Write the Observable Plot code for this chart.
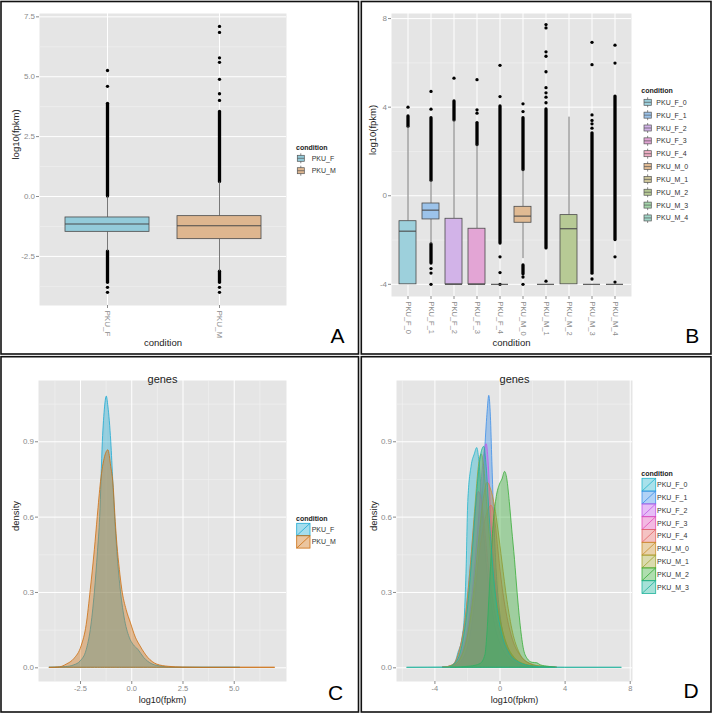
<!DOCTYPE html>
<html><head><meta charset="utf-8">
<script src="https://cdn.jsdelivr.net/npm/d3@7"></script>
<script src="https://cdn.jsdelivr.net/npm/@observablehq/plot@0.6"></script>
<style>
body{margin:0;background:#fff;}
#fig{position:relative;width:716px;height:715px;overflow:hidden;background:#fff;}
#fig svg{position:absolute;}
</style></head><body><div id="fig"></div>
<script>
// ---------------- DATA ----------------
// Panel A: boxplot by sex
const condA = ["PKU_F", "PKU_M"];
const q1A = [-1.475, -1.78];
const medA = [-1.15, -1.22];
const q3A = [-0.875, -0.82];
const whLoA = [-2.3, -3.14];
const whHiA = [0.0, 0.61];
const denseA = [["PKU_F", 0.0, 3.87], ["PKU_F", -3.6, -2.3], ["PKU_M", 0.61, 3.53], ["PKU_M", -3.6, -3.14]];
const dotsA = [["PKU_F", 4.6], ["PKU_F", 5.26], ["PKU_F", -3.79], ["PKU_F", -4.0],
  ["PKU_M", 4.01], ["PKU_M", 4.29], ["PKU_M", 4.89], ["PKU_M", 5.6], ["PKU_M", 5.79], ["PKU_M", 6.85], ["PKU_M", 7.1], ["PKU_M", -3.79], ["PKU_M", -4.0]];
const yTicksA = [-2.5, 0, 2.5, 5, 7.5];
const yMinorA = [-3.75, -1.25, 1.25, 3.75, 6.25];

// Panel B: boxplot by sample
const condB = ["PKU_F_0","PKU_F_1","PKU_F_2","PKU_F_3","PKU_F_4","PKU_M_0","PKU_M_1","PKU_M_2","PKU_M_3","PKU_M_4"];
const q1B = [-4, -1.07, -4, -4, -4, -1.22, -4, -4, -4, -4];
const medB = [-1.6, -0.65, -4, -4, -4, -0.92, -4, -1.49, -4, -4];
const q3B = [-1.15, -0.35, -1.04, -1.49, -4, -0.5, -4, -0.875, -4, -4];
const whLoB = [-4, -2.2, -4, -4, -4, -2.84, -4, -4, -4, -4];
const whHiB = [3.12, 0.68, 3.4, 2.29, -4, 1.16, -4, 3.55, -4, -4];
const denseB = [
  ["PKU_F_0", 3.12, 3.58],
  ["PKU_F_1", 0.68, 3.5], ["PKU_F_1", -3.06, -2.2],
  ["PKU_F_2", 3.4, 4.26],
  ["PKU_F_3", 2.29, 3.28],
  ["PKU_F_4", -2.16, 4.03],
  ["PKU_M_0", 1.16, 3.5], ["PKU_M_0", -3.55, -3.15],
  ["PKU_M_1", -2.38, 3.9],
  ["PKU_M_3", -3.52, 2.82],
  ["PKU_M_4", -2.0, 4.48]
];
const dotsB = [
  ["PKU_F_0", 4.0],
  ["PKU_F_1", 3.91], ["PKU_F_1", 4.71], ["PKU_F_1", -3.29], ["PKU_F_1", -3.49], ["PKU_F_1", -4.0],
  ["PKU_F_2", 5.31],
  ["PKU_F_3", 3.73], ["PKU_F_3", 3.88], ["PKU_F_3", 5.24],
  ["PKU_F_4", 4.48], ["PKU_F_4", 5.89], ["PKU_F_4", -2.76], ["PKU_F_4", -3.47], ["PKU_F_4", -4.0],
  ["PKU_M_0", 3.8], ["PKU_M_0", 4.15], ["PKU_M_0", -3.67], ["PKU_M_0", -4.0],
  ["PKU_M_1", 4.2], ["PKU_M_1", 4.45], ["PKU_M_1", 4.65], ["PKU_M_1", 4.88], ["PKU_M_1", 5.6], ["PKU_M_1", 6.3], ["PKU_M_1", 6.5], ["PKU_M_1", 7.58], ["PKU_M_1", 7.73], ["PKU_M_1", -3.86],
  ["PKU_M_3", 3.05], ["PKU_M_3", 3.25], ["PKU_M_3", 3.4], ["PKU_M_3", 3.65], ["PKU_M_3", 5.92], ["PKU_M_3", 6.93], ["PKU_M_3", -3.76],
  ["PKU_M_4", 5.99], ["PKU_M_4", 6.8], ["PKU_M_4", -2.76], ["PKU_M_4", -3.9]
];
const yTicksB = [-4, 0, 4, 8];
const yMinorB = [-2, 2, 6];

// Panel C: density by sex
const condC = ["PKU_F", "PKU_M"];
const densC_F = [[-4.0,0],[-3.2,0.003],[-2.8,0.01],[-2.5,0.025],[-2.2,0.07],[-2.0,0.15],[-1.8,0.3],[-1.65,0.46],[-1.54,0.6],[-1.41,0.9],[-1.3,1.04],[-1.22,1.08],[-1.14,1.04],[-1.0,0.9],[-0.9,0.74],[-0.81,0.6],[-0.7,0.46],[-0.55,0.32],[-0.35,0.2],[-0.1,0.12],[0.1,0.09],[0.32,0.072],[0.6,0.04],[1.0,0.014],[1.5,0.004],[1.94,0],[5.3,0]];
const densC_M = [[-4.0,0],[-3.5,0.002],[-3.17,0.013],[-2.8,0.035],[-2.45,0.085],[-2.2,0.17],[-2.0,0.31],[-1.8,0.47],[-1.66,0.6],[-1.5,0.74],[-1.3,0.84],[-1.14,0.866],[-1.0,0.8],[-0.89,0.73],[-0.78,0.58],[-0.7,0.49],[-0.58,0.39],[-0.46,0.31],[-0.25,0.23],[-0.05,0.18],[0.2,0.12],[0.43,0.085],[0.8,0.04],[1.24,0.013],[1.8,0.004],[2.5,0.001],[3.5,0],[7.0,0]];
const xTicksC = [-2.5, 0, 2.5, 5];
const xMinorC = [-3.75, -1.25, 1.25, 3.75, 6.25];
const yTicksCD = [0, 0.3, 0.6, 0.9];
const yMinorCD = [0.15, 0.45, 0.75, 1.05];

// Panel D: density by sample
const condD = ["PKU_F_0","PKU_F_1","PKU_F_2","PKU_F_3","PKU_F_4","PKU_M_0","PKU_M_1","PKU_M_2","PKU_M_3"];
const densD_F0 = [[-3.5,0],[-3.0,0.002],[-2.8,0.01],[-2.55,0.06],[-2.3,0.12],[-2.15,0.22],[-2.05,0.4],[-1.95,0.66],[-1.75,0.8],[-1.55,0.85],[-1.4,0.875],[-1.28,0.83],[-1.15,0.72],[-1.0,0.56],[-0.8,0.4],[-0.55,0.27],[-0.3,0.17],[0.0,0.1],[0.4,0.05],[0.9,0.02],[1.5,0.006],[2.5,0.001],[3.5,0]];
const densD_F1 = [[-3.5,0],[-2.8,0.005],[-2.3,0.03],[-1.9,0.1],[-1.6,0.22],[-1.35,0.38],[-1.15,0.58],[-1.0,0.75],[-0.88,0.9],[-0.76,1.02],[-0.66,1.083],[-0.56,1.0],[-0.47,0.82],[-0.38,0.64],[-0.28,0.48],[-0.15,0.33],[0.05,0.2],[0.35,0.1],[0.8,0.04],[1.3,0.012],[2.0,0.003],[3.0,0]];
const densD_F2 = [[-3.5,0],[-2.8,0.01],[-2.3,0.06],[-1.9,0.18],[-1.55,0.38],[-1.3,0.58],[-1.1,0.76],[-0.95,0.86],[-0.82,0.89],[-0.7,0.82],[-0.58,0.66],[-0.42,0.47],[-0.2,0.3],[0.1,0.17],[0.5,0.08],[1.0,0.03],[1.6,0.01],[2.5,0.002],[3.5,0]];
const densD_F3 = [[-3.5,0],[-2.9,0.01],[-2.5,0.06],[-2.1,0.2],[-1.8,0.4],[-1.5,0.62],[-1.3,0.7],[-1.1,0.66],[-0.9,0.54],[-0.65,0.38],[-0.35,0.24],[0.0,0.14],[0.5,0.07],[1.0,0.03],[1.8,0.008],[2.8,0]];
const densD_F4 = [[-3.5,0],[-2.8,0.01],[-2.3,0.05],[-1.9,0.15],[-1.5,0.32],[-1.15,0.5],[-0.85,0.6],[-0.52,0.645],[-0.3,0.59],[-0.12,0.48],[0.1,0.35],[0.4,0.22],[0.8,0.11],[1.3,0.045],[1.9,0.015],[2.6,0.004],[3.5,0]];
const densD_M0 = [[-3.5,0],[-2.8,0.01],[-2.3,0.05],[-1.9,0.15],[-1.55,0.33],[-1.25,0.53],[-1.0,0.67],[-0.76,0.737],[-0.55,0.71],[-0.3,0.64],[-0.1,0.55],[0.15,0.42],[0.45,0.27],[0.8,0.14],[1.2,0.06],[1.7,0.02],[2.4,0.005],[3.5,0]];
const densD_M1 = [[-3.5,0],[-2.9,0.01],[-2.5,0.06],[-2.1,0.2],[-1.8,0.4],[-1.5,0.65],[-1.3,0.8],[-1.13,0.85],[-0.97,0.8],[-0.8,0.66],[-0.6,0.5],[-0.35,0.34],[0.0,0.2],[0.4,0.1],[0.9,0.04],[1.6,0.012],[2.6,0.002],[3.5,0]];
const densD_M2 = [[-3.0,0],[-1.8,0.005],[-1.2,0.015],[-0.9,0.05],[-0.78,0.13],[-0.65,0.28],[-0.52,0.44],[-0.38,0.58],[-0.2,0.68],[0.0,0.73],[0.15,0.75],[0.31,0.78],[0.45,0.75],[0.6,0.66],[0.75,0.55],[0.92,0.43],[1.08,0.3],[1.25,0.18],[1.45,0.08],[1.7,0.035],[2.0,0.02],[2.3,0.018],[2.5,0.01],[3.0,0.004],[3.4,0]];
const densD_M3 = [[-5.69,0],[-3.2,0.001],[-2.7,0.02],[-2.3,0.09],[-1.95,0.25],[-1.65,0.48],[-1.4,0.7],[-1.18,0.84],[-0.97,0.88],[-0.82,0.8],[-0.65,0.62],[-0.45,0.43],[-0.2,0.26],[0.15,0.13],[0.6,0.055],[1.2,0.02],[2.0,0.005],[3.0,0.001],[4.0,0],[7.49,0]];
const xTicksD = [-4, 0, 4, 8];
const xMinorD = [-6, -2, 2, 6];

// ---------------- STYLE ----------------
const FONT = "Liberation Sans, Arial, Helvetica, sans-serif";
const TICK = "#8a8a8a";
const BG = "#e5e5e5";
const MINOR = "#f2f2f2";
const TITLE = "#222";
const colorsA = ["#93cbda", "#deb68f"];
const colorsB = ["#9dd0dc","#9cc3ea","#d2b3e8","#e3a5d5","#eeaec4","#e0ba93","#cdc59a","#b7ca95","#a5d6ab","#a0d6c8"];
const colorsC = ["#1eaad2", "#cd6e10"];
const colorsD = ["#25b5cc","#3d8fe8","#c159e8","#e14fb6","#e3686a","#c98f2c","#a2a535","#38ad38","#1fb39c"];

const fig = document.getElementById("fig");
function place(svg, left, top) { svg.style.left = left + "px"; svg.style.top = top + "px"; fig.appendChild(svg); }

function boxPlot({cond, q1, med, q3, lo, hi, dense, dots, colors, yDomain, yTicks, yMinor, yFmt, width, height, margins, tickFont, xTitleDy, yTitleDx}) {
  const boxes = cond.map((c, i) => ({condition: c, q1: q1[i], med: med[i], q3: q3[i], lo: lo[i], hi: hi[i]}));
  const dn = dense.map(([c, a, b]) => ({condition: c, a, b}));
  const dt = dots.map(([c, y]) => ({condition: c, y}));
  return Plot.plot({
    width, height, ...margins,
    style: {fontFamily: FONT, background: "transparent", overflow: "visible"},
    x: {type: "band", domain: cond, paddingInner: 0.25, paddingOuter: 0.225},
    y: {domain: yDomain},
    color: {domain: cond, range: colors},
    marks: [
      Plot.frame({fill: BG, stroke: "none"}),
      Plot.gridY(yMinor, {stroke: MINOR, strokeOpacity: 1, strokeWidth: 0.6}),
      Plot.gridY(yTicks, {stroke: "#fff", strokeOpacity: 1, strokeWidth: 1}),
      Plot.gridX(cond, {stroke: "#fff", strokeOpacity: 1, strokeWidth: 1}),
      Plot.axisY(yTicks, {tickSize: 3, tickPadding: 1.5, fontSize: 8, color: TICK, tickFormat: yFmt, label: null}),
      Plot.axisX(cond, {tickSize: 3, tickPadding: 2, tickRotate: 90, fontSize: tickFont, color: TICK, label: null}),
      Plot.ruleX(dn, {x: "condition", y1: "a", y2: "b", stroke: "#000", strokeWidth: 3.3, strokeLinecap: "round"}),
      Plot.dot(dt, {x: "condition", y: "y", r: 1.65, fill: "#000", stroke: "none"}),
      Plot.ruleX(boxes, {x: "condition", y1: "q3", y2: "hi", stroke: "#555", strokeWidth: 0.8}),
      Plot.ruleX(boxes, {x: "condition", y1: "lo", y2: "q1", stroke: "#555", strokeWidth: 0.8}),
      Plot.barY(boxes, {x: "condition", y1: "q1", y2: "q3", fill: "condition", stroke: "#4a4a4a", strokeWidth: 0.8}),
      Plot.tickY(boxes, {x: "condition", y: "med", stroke: "#4a4a4a", strokeWidth: 1.1}),
      Plot.text(["condition"], {text: d => d, frameAnchor: "bottom", dy: xTitleDy, fontSize: 9.5, fill: TITLE}),
      Plot.text(["log10(fpkm)"], {text: d => d, frameAnchor: "left", dx: yTitleDx, rotate: -90, fontSize: 9.5, fill: TITLE})
    ]
  });
}

function densPlot({cond, series, colors, xDomain, xTicks, xMinor, xFmt, margins, opacity}) {
  const rows = series.flatMap((pts, i) => pts.map(([x, y]) => ({condition: cond[i], x, y, base: 0})));
  return Plot.plot({
    width: 358, height: 358, ...margins,
    style: {fontFamily: FONT, background: "transparent", overflow: "visible"},
    x: {domain: xDomain},
    y: {domain: [-0.0545, 1.144]},
    color: {domain: cond, range: colors},
    marks: [
      Plot.frame({fill: BG, stroke: "none"}),
      Plot.gridY(yMinorCD, {stroke: MINOR, strokeOpacity: 1, strokeWidth: 0.6}),
      Plot.gridX(xMinor, {stroke: MINOR, strokeOpacity: 1, strokeWidth: 0.6}),
      Plot.gridY(yTicksCD, {stroke: "#fff", strokeOpacity: 1, strokeWidth: 1}),
      Plot.gridX(xTicks, {stroke: "#fff", strokeOpacity: 1, strokeWidth: 1}),
      Plot.axisY(yTicksCD, {tickSize: 3, tickPadding: 1.5, fontSize: 8, color: TICK, tickFormat: d => d.toFixed(1), label: null}),
      Plot.axisX(xTicks, {tickSize: 3, tickPadding: 1, fontSize: 7.5, color: TICK, tickFormat: xFmt, label: null}),
      Plot.area(rows, {x1: "x", y1: "base", y2: "y", z: "condition", fill: "condition", fillOpacity: opacity, stroke: "condition", strokeWidth: 0.8, curve: "monotone-x"}),
      Plot.text(["genes"], {text: d => d, frameAnchor: "top", dy: -5.5, fontSize: 11, fill: TITLE}),
      Plot.text(["log10(fpkm)"], {text: d => d, frameAnchor: "bottom", dy: 21.5, fontSize: 9, fill: TITLE}),
      Plot.text(["density"], {text: d => d, frameAnchor: "left", dx: -23, rotate: -90, fontSize: 9.5, fill: TITLE})
    ]
  });
}

place(boxPlot({cond: condA, q1: q1A, med: medA, q3: q3A, lo: whLoA, hi: whHiA, dense: denseA, dots: dotsA, colors: colorsA,
  yDomain: [-4.55, 7.64], yTicks: yTicksA, yMinor: yMinorA, yFmt: d => d.toFixed(1), width: 358, height: 357,
  margins: {marginLeft: 39, marginRight: 72, marginTop: 13, marginBottom: 52}, tickFont: 8, xTitleDy: 40, yTitleDx: -24}), 0, 0);

place(boxPlot({cond: condB, q1: q1B, med: medB, q3: q3B, lo: whLoB, hi: whHiB, dense: denseB, dots: dotsB, colors: colorsB,
  yDomain: [-4.55, 8.23], yTicks: yTicksB, yMinor: yMinorB, yFmt: d => String(d), width: 358, height: 357,
  margins: {marginLeft: 33, marginRight: 85, marginTop: 13, marginBottom: 61}, tickFont: 7.5, xTitleDy: 49, yTitleDx: -19}), 358, 0);

place(densPlot({cond: condC, series: [densC_F, densC_M], colors: colorsC, xDomain: [-4.55, 7.55], xTicks: xTicksC, xMinor: xMinorC,
  xFmt: d => d.toFixed(1), margins: {marginLeft: 38, marginRight: 72, marginTop: 23, marginBottom: 34}, opacity: 0.4}), 0, 357);

place(densPlot({cond: condD, series: [densD_F0, densD_F1, densD_F2, densD_F3, densD_F4, densD_M0, densD_M1, densD_M2, densD_M3], colors: colorsD,
  xDomain: [-6.36, 8.14], xTicks: xTicksD, xMinor: xMinorD, xFmt: d => String(d),
  margins: {marginLeft: 38, marginRight: 84, marginTop: 23, marginBottom: 34}, opacity: 0.4}), 358, 357);

// ---------------- OVERLAY: legends, frames, panel letters ----------------
const ov = d3.create("svg").attr("width", 716).attr("height", 715).style("left", "0px").style("top", "0px").style("font-family", FONT);

function boxLegend({x, titleY, cy0, step, keyX, keyW, labelX, names, fills}) {
  ov.append("text").attr("x", x).attr("y", titleY).attr("font-size", 7).attr("font-weight", "bold").attr("fill", "#222").text("condition");
  names.forEach((n, i) => {
    const cy = cy0 + step * i;
    const g = ov.append("g");
    g.append("line").attr("x1", keyX + keyW / 2).attr("x2", keyX + keyW / 2).attr("y1", cy - 5).attr("y2", cy + 5).attr("stroke", "#555").attr("stroke-width", 0.7);
    g.append("rect").attr("x", keyX).attr("y", cy - 3).attr("width", keyW).attr("height", 6).attr("fill", fills[i]).attr("stroke", "#555").attr("stroke-width", 0.7);
    g.append("line").attr("x1", keyX).attr("x2", keyX + keyW).attr("y1", cy).attr("y2", cy).attr("stroke", "#555").attr("stroke-width", 0.7);
    ov.append("text").attr("x", labelX).attr("y", cy + 2.5).attr("font-size", 7).attr("fill", "#333").text(n);
  });
}
function densLegend({x, titleY, top0, step, keyX, keyW, labelX, names, colors, opacity}) {
  ov.append("text").attr("x", x).attr("y", titleY).attr("font-size", 7).attr("font-weight", "bold").attr("fill", "#222").text("condition");
  names.forEach((n, i) => {
    const t = top0 + step * i;
    ov.append("rect").attr("x", keyX).attr("y", t).attr("width", keyW).attr("height", step).attr("fill", colors[i]).attr("fill-opacity", opacity).attr("stroke", colors[i]).attr("stroke-width", 0.8);
    ov.append("line").attr("x1", keyX).attr("y1", t + step).attr("x2", keyX + keyW).attr("y2", t).attr("stroke", colors[i]).attr("stroke-width", 0.8);
    ov.append("text").attr("x", labelX).attr("y", t + step / 2 + 2.5).attr("font-size", 7).attr("fill", "#333").text(n);
  });
}

boxLegend({x: 296, titleY: 149.8, cy0: 158.3, step: 12.4, keyX: 297.3, keyW: 7, labelX: 311.7, names: condA, fills: colorsA});
boxLegend({x: 641.3, titleY: 93.2, cy0: 102.3, step: 12.85, keyX: 644, keyW: 7.3, labelX: 656.3, names: condB, fills: colorsB});
densLegend({x: 296, titleY: 520.8, top0: 523.3, step: 12.4, keyX: 296.7, keyW: 13.3, labelX: 311.7, names: condC, colors: colorsC, opacity: 0.4});
densLegend({x: 641.3, titleY: 476.2, top0: 478.3, step: 12.8, keyX: 642, keyW: 13.7, labelX: 657, names: condD, colors: colorsD, opacity: 0.4});

const frames = [[1, 1.5, 357.5, 352.5], [361.3, 1.5, 349.7, 352.5], [1, 356.7, 357.5, 355.3], [361.3, 356.7, 349.7, 355.3]];
frames.forEach(([x, y, w, h]) => ov.append("rect").attr("x", x).attr("y", y).attr("width", w).attr("height", h).attr("fill", "none").attr("stroke", "#111").attr("stroke-width", 1.6));
const letters = [["A", 337.5, 343], ["B", 692.3, 343], ["C", 335.5, 700], ["D", 691, 698.3]];
letters.forEach(([t, x, y]) => ov.append("text").attr("x", x).attr("y", y).attr("text-anchor", "middle").attr("font-size", 21).attr("fill", "#000").text(t));

fig.appendChild(ov.node());
</script></body></html>
